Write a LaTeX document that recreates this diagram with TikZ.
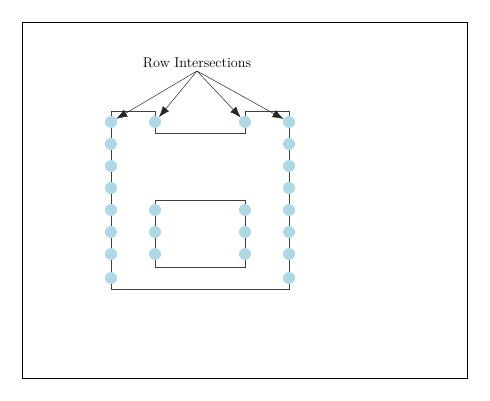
\documentclass[tikz,border=0pt]{standalone}
\usetikzlibrary{arrows.meta}
\definecolor{lightbluec}{RGB}{173,216,230}
\begin{document}
\begin{tikzpicture}[x=1pt,y=-1pt,
  dot/.style={circle,fill=lightbluec,minimum size=12pt,inner sep=0pt},
  wire/.style={draw=black!75,line width=0.6pt},
  arr/.style={draw=black!85,line width=0.5pt,-{Latex[length=11pt,width=8pt]}}]
\useasboundingbox (0,0) rectangle (490,401);
\draw[line width=0.8pt] (22,22) rectangle (467,378);
% outer polygon
\draw[wire] (155,111) -- (111,111) -- (111,289) -- (289,289) -- (289,111) -- (245,111) -- (245,133) -- (155,133) -- cycle;
% inner rectangle
\draw[wire] (155,200) rectangle (245,267);
% dots
\foreach \y [count=\i] in {122,144,166,188,210,232,254,278} {
  \node[dot] (L\i) at (111,\y) {};
  \node[dot] (R\i) at (289,\y) {};
}
\node[dot] (A1) at (155,122) {};
\node[dot] (B1) at (245,122) {};
\foreach \y [count=\i] in {210,232,254} {
  \node[dot] (A\i x) at (155,\y) {};
  \node[dot] (B\i x) at (245,\y) {};
}
\node[font=\fontsize{14.2}{16}\selectfont,inner sep=1pt] (lab) at (197,63) {Row Intersections};
\coordinate (src) at (197,71);
\draw[arr] (src) -- (L1);
\draw[arr] (src) -- (A1);
\draw[arr] (src) -- (B1);
\draw[arr] (src) -- (R1);
\end{tikzpicture}
\end{document}
